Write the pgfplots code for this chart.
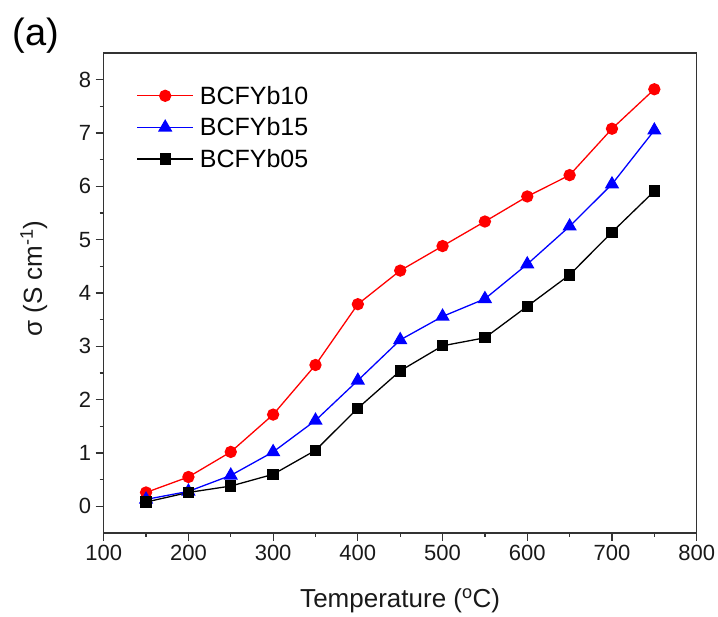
\documentclass[border=0pt]{standalone}
\usepackage{fontspec}
\setmainfont{Liberation Sans}
\usepackage{pgfplots}
\pgfplotsset{compat=1.18}
\begin{document}
\begin{tikzpicture}
\begin{axis}[
  name=ax,
  scale only axis,
  width=593pt, height=480pt,
  xmin=100, xmax=800, ymin=-0.5, ymax=8.5,
  xtick={100,200,...,800},
  ytick={0,1,...,8},
  minor x tick num=1,
  minor y tick num=1,
  axis line style={black!80, line width=1.4pt},
  tick style={black!80, line width=1.2pt},
  tick align=outside,
  xtick pos=bottom, ytick pos=left,
  major tick length=8pt,
  minor tick length=4pt,
  /pgf/number format/assume math mode=true,
  /pgf/number format/1000 sep={},
  tick label style={font=\fontsize{22}{26}\selectfont, text=black!90},
  xticklabel style={yshift=-1pt},
  yticklabel style={xshift=-1pt},
  xlabel={Temperature (\textsuperscript{o}C)},
  ylabel={σ (S cm\textsuperscript{-1})},
  every axis x label/.style={at={(axis description cs:0.5,-0.142)}, anchor=center, font=\fontsize{26}{30}\selectfont, text=black!90},
  every axis y label/.style={at={(axis description cs:-0.118,0.53)}, anchor=center, rotate=90, font=\fontsize{26}{30}\selectfont, text=black!90},
  legend style={draw=none, fill=none, at={(axis description cs:0.05,0.94)}, anchor=north west,
    font=\fontsize{25}{28}\selectfont, row sep=8pt, nodes={inner xsep=6pt}},
  legend cell align=left,
  legend image code/.code={\draw[mark repeat=2,mark phase=2] plot coordinates {(0pt,0pt) (28pt,0pt) (56pt,0pt)};},
]
\addplot[red, line width=1.3pt, mark=*, mark size=5.5pt] coordinates {
(150,0.26) (200,0.55) (250,1.02) (300,1.72) (350,2.65) (400,3.79) (450,4.42)
(500,4.88) (550,5.34) (600,5.81) (650,6.21) (700,7.08) (750,7.82)};
\addlegendentry{BCFYb10}
\addplot[blue, line width=1.3pt, mark=triangle*, mark size=7pt] coordinates {
(150,0.13) (200,0.28) (250,0.58) (300,1.02) (350,1.61) (400,2.36) (450,3.12)
(500,3.56) (550,3.89) (600,4.54) (650,5.25) (700,6.04) (750,7.05)};
\addlegendentry{BCFYb15}
\addplot[black, line width=1.3pt, mark=square*, mark size=5pt] coordinates {
(150,0.08) (200,0.26) (250,0.38) (300,0.60) (350,1.05) (400,1.84) (450,2.54)
(500,3.01) (550,3.16) (600,3.75) (650,4.34) (700,5.14) (750,5.91)};
\addlegendentry{BCFYb05}
\end{axis}
\node[anchor=west, font=\fontsize{38}{42}\selectfont, inner sep=0pt] at ([shift={(-91pt,497pt)}]ax.south west) {(a)};
\pgfresetboundingbox
\path ([shift={(-103.7pt,-84pt)}]ax.south west) rectangle ([shift={(614.3pt,533pt)}]ax.south west);
\end{tikzpicture}
\end{document}
